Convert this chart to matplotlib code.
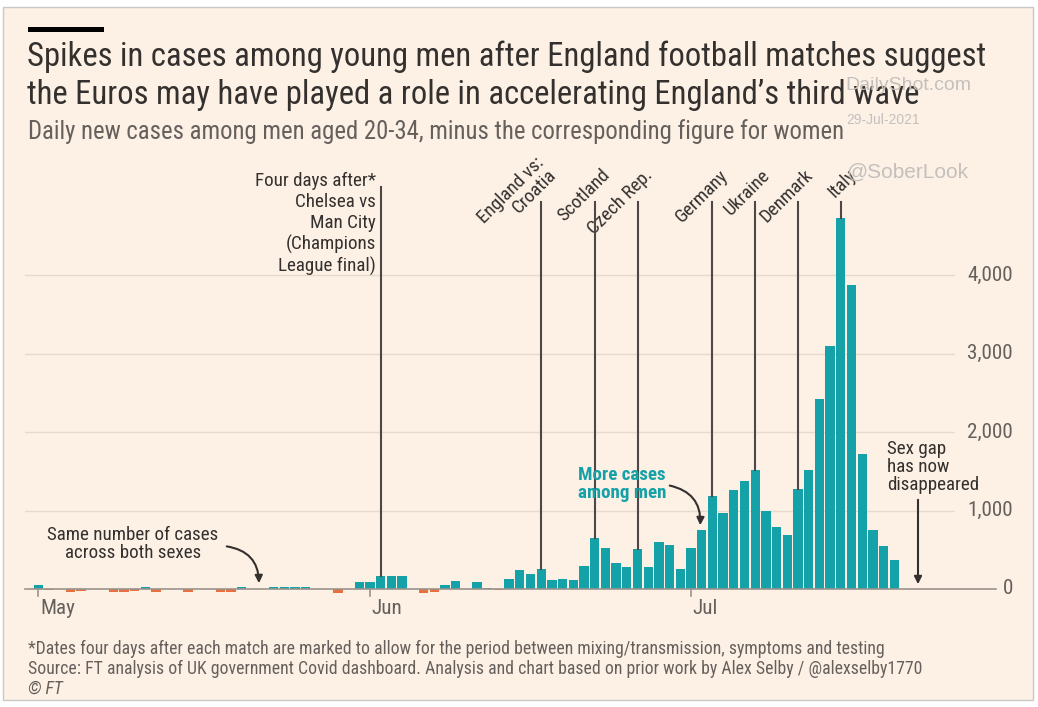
import numpy as np
import pandas as pd
import matplotlib
matplotlib.use("Agg")
import matplotlib.pyplot as plt
import matplotlib.dates as mdates
from matplotlib import font_manager
from matplotlib.patches import Rectangle

# daily new cases among men aged 20-34 minus the figure for women
may_vals = [50, -15, 0, -40, -30, 0, 0, -35, -35, -30, 20, -40, 0, 0, -40, 0,
            0, -35, -35, 30, 0, 0, 20, 20, 20, 20, 0, 0, -45, 0, 85]
jun_vals = [90, 170, 170, 170, 0, -45, -40, 55, 100, 0, 95, 15, -10, 125, 240,
            195, 260, 120, 130, 115, 290, 655, 520, 330, 280, 510, 285, 600, 565, 260]
jul_vals = [525, 756, 1180, 970, 1265, 1375, 1515, 1000, 786, 692, 1269, 1510,
            2415, 3098, 4731, 3876, 1718, 756, 543, 372]

values = np.array(may_vals + jun_vals + jul_vals)
dates = pd.date_range("2021-05-01", periods=len(values), freq="D")

month_labels = ["May", "Jun", "Jul"]
month_starts = pd.to_datetime(["2021-05-01", "2021-06-01", "2021-07-01"])
y_ticks = [0, 1000, 2000, 3000, 4000]

# matches, marked four days later
event_labels = ["England vs:\nCroatia", "Scotland", "Czech Rep.", "Germany",
                "Ukraine", "Denmark", "Italy"]
event_dates = pd.to_datetime(["2021-06-17", "2021-06-22", "2021-06-26", "2021-07-03",
                              "2021-07-07", "2021-07-11", "2021-07-15"])
cl_label = "Four days after*\nChelsea vs\nMan City\n(Champions\nLeague final)"
cl_date = pd.Timestamp("2021-06-02")

TEAL = "#14a1a7"
ORANGE = "#e8703e"
INK = "#33302e"
GREY = "#66605c"
PAPER = "#fdf1e6"

# narrowest font that is around
installed = {f.name for f in font_manager.fontManager.ttflist}
fam = "DejaVu Sans"
for cand in ["Liberation Sans Narrow", "Roboto Condensed", "Roboto", "Lato"]:
    if cand in installed:
        fam = cand
        break
plt.rcParams["font.family"] = [fam, "DejaVu Sans"]

W, H = 1038, 707
fig = plt.figure(figsize=(W / 100, H / 100), dpi=100, facecolor="white")
renderer = fig.canvas.get_renderer()


def P(x, y):
    # pixel position (top-left origin) -> figure fraction
    return x / W, 1 - y / H


def fit(txt, width_px):
    bb = txt.get_window_extent(renderer)
    txt.set_fontsize(txt.get_fontsize() * width_px / bb.width)
    return txt.get_fontsize()


fig.patches.append(Rectangle((3 / W, 1 - 700 / H), 1030 / W, 693 / H,
                             transform=fig.transFigure, facecolor=PAPER,
                             edgecolor="#c8c8c8", lw=1, zorder=-10))

# chart area: x px 25..955, y px 150..600
px_day = 10.7
x0_px = 38.3
y0_px = 589
px_per_k = 78.5
left, right, top, bottom = 25, 955, 150, 600
ax = fig.add_axes([left / W, 1 - bottom / H, (right - left) / W, (bottom - top) / H])
ax.set_facecolor("none")
d0 = mdates.date2num(pd.Timestamp("2021-05-01"))
ax.set_xlim(d0 + (left - x0_px) / px_day, d0 + (right - x0_px) / px_day)
ax.set_ylim(-(bottom - y0_px) / px_per_k * 1000, (y0_px - top) / px_per_k * 1000)
for s in ax.spines.values():
    s.set_visible(False)
ax.set_xticks([])
ax.set_yticks([])


def val(y_px):
    return (y0_px - y_px) / px_per_k * 1000


for t in y_ticks[1:]:
    ax.axhline(t, color="#e6dacd", lw=1, zorder=1)
ax.axhline(0, xmax=(996 - left) / (right - left), color="#9a938d", lw=1.2,
           zorder=3, clip_on=False)

colors = [TEAL if v >= 0 else ORANGE for v in values]
ax.bar(mdates.date2num(dates), values, width=0.86, color=colors, zorder=2)

# font sizes taken from reference label widths
probe = fig.text(0, 0, "Same number of cases", fontsize=10)
ann_fs = fit(probe, 170)
probe.remove()
probe = fig.text(0, 0, "May", fontsize=10)
tick_fs = fit(probe, 35)
probe.remove()

for d, lab in zip(month_starts, month_labels):
    xd = mdates.date2num(d)
    ax.plot([xd, xd], [0, -95], color="#9a938d", lw=1.2, zorder=3, clip_on=False)
    ax.text(xd + 0.15, val(608), lab, ha="left", va="center",
            fontsize=tick_fs, color=GREY, clip_on=False)

ytrans = matplotlib.transforms.blended_transform_factory(fig.transFigure, ax.transData)
for t in y_ticks:
    ax.text(1013 / W, t, f"{t:,}", transform=ytrans, ha="right", va="center",
            fontsize=tick_fs, color=GREY)

# event lines and labels
line_col = "#4d4845"
for d, lab in zip(event_dates, event_labels):
    v = values[dates.get_loc(d)]
    xd = mdates.date2num(d)
    ax.plot([xd, xd], [v, val(202)], color=line_col, lw=1.5, zorder=4)
    ax.text(xd + 16 / px_day, val(176), lab, rotation=45,
            rotation_mode="anchor", ha="right", va="baseline",
            multialignment="right", fontsize=ann_fs, color=INK,
            linespacing=1.0)

cl_v = values[dates.get_loc(cl_date)]
xd = mdates.date2num(cl_date)
ax.plot([xd, xd], [cl_v, val(187)], color=line_col, lw=1.5, zorder=4)
fig.text(*P(376, 172), cl_label, ha="right", va="top", fontsize=ann_fs,
         color=INK, linespacing=1.2)

# text annotations with arrows
fig.text(*P(133, 544), "Same number of cases\nacross both sexes", ha="center",
         va="center", fontsize=ann_fs, color=INK, linespacing=1.05)
ax.annotate("", xy=P(259, 586), xytext=P(224, 546), xycoords="figure fraction",
            textcoords="figure fraction",
            arrowprops=dict(arrowstyle="-|>", color=INK, lw=1.5,
                            connectionstyle="arc3,rad=-0.45", mutation_scale=11))

fig.text(*P(622, 484), "More cases\namong men", ha="center", va="center",
         fontsize=ann_fs, color=TEAL, fontweight="bold", linespacing=1.0)
ax.annotate("", xy=P(700, 528), xytext=P(667, 485), xycoords="figure fraction",
            textcoords="figure fraction",
            arrowprops=dict(arrowstyle="-|>", color=INK, lw=1.5,
                            connectionstyle="arc3,rad=-0.45", mutation_scale=11))

fig.text(*P(887, 467), "Sex gap\nhas now\ndisappeared", ha="left", va="center",
         fontsize=ann_fs, color=INK, linespacing=1.0)
ax.annotate("", xy=P(918, 587), xytext=P(918, 497), xycoords="figure fraction",
            textcoords="figure fraction",
            arrowprops=dict(arrowstyle="-|>", color=INK, lw=1.5, mutation_scale=11))

# header
fig.patches.append(Rectangle(P(28, 32), 76 / W, 5 / H, transform=fig.transFigure,
                             facecolor="black", edgecolor="none"))
t1 = fig.text(*P(27, 57), "Spikes in cases among young men after England football matches suggest",
              ha="left", va="center", fontsize=20, color=INK)
t2 = fig.text(*P(27, 95), "the Euros may have played a role in accelerating England\u2019s third wave",
              ha="left", va="center", fontsize=20, color=INK)
fit(t1, 958)
t2.set_fontsize(t1.get_fontsize())
sub = fig.text(*P(28, 132), "Daily new cases among men aged 20-34, minus the corresponding figure for women",
               ha="left", va="center", fontsize=13, color=GREY)
fit(sub, 815)

# watermarks
wm = dict(family=["Liberation Sans", "DejaVu Sans"], color="#c4c0bd")
fig.text(*P(845, 86), "DailyShot.com", ha="left", va="center", fontsize=14, **wm)
fig.text(*P(846, 120), "29-Jul-2021", ha="left", va="center", fontsize=10, **wm)
fig.text(*P(846, 172), "@SoberLook", ha="left", va="center", fontsize=15, **wm)

# footer
f1 = fig.text(*P(28, 649), "*Dates four days after each match are marked to allow for the period "
              "between mixing/transmission, symptoms and testing", ha="left", va="center",
              fontsize=9.5, color=GREY)
fit(f1, 854)
f2 = fig.text(*P(28, 669), "Source: FT analysis of UK government Covid dashboard. Analysis and chart "
              "based on prior work by Alex Selby / @alexselby1770", ha="left", va="center",
              fontsize=f1.get_fontsize(), color=GREY)
fig.text(*P(28, 689), "\u00a9 FT", ha="left", va="center", fontsize=f1.get_fontsize(),
         color=GREY, style="italic")

fig.savefig("out.png", dpi=100, facecolor="white")
